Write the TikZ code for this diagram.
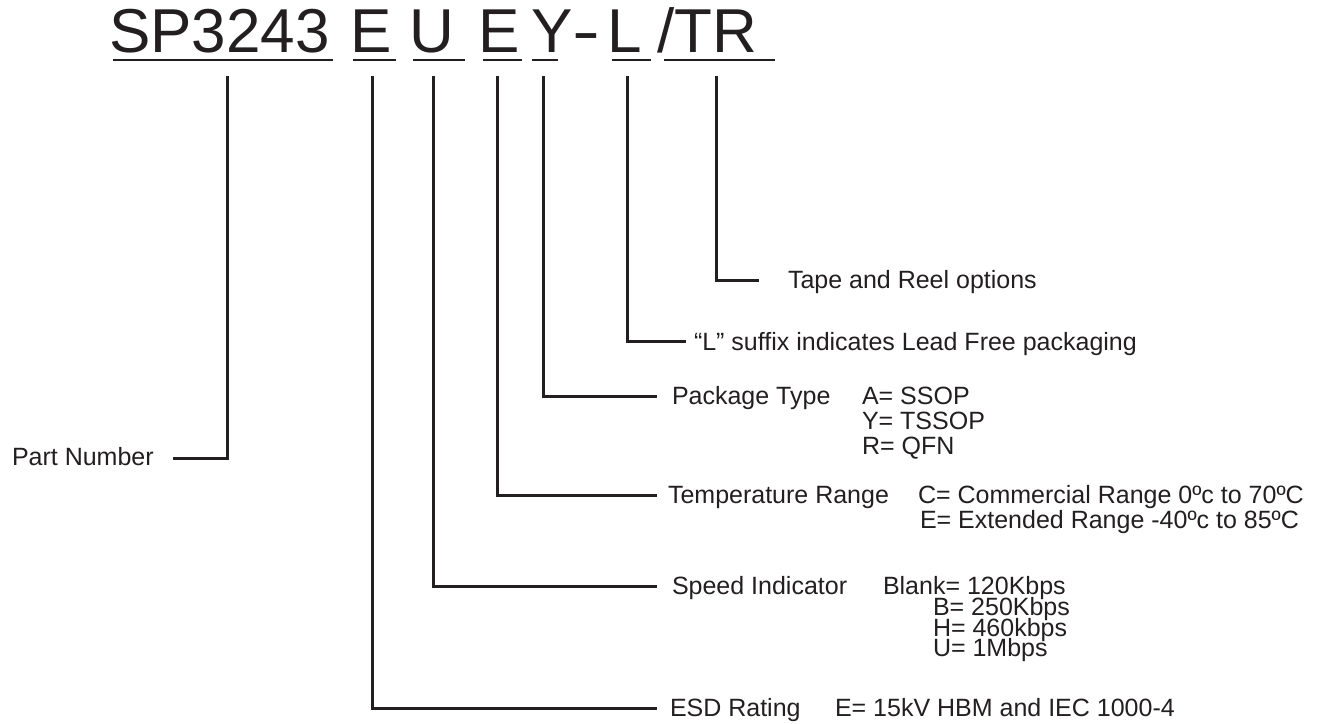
\documentclass[tikz,border=0pt]{standalone}
\usepackage{fontspec}
\setmainfont{Liberation Sans}
\definecolor{ink}{HTML}{231F20}
\tikzset{
  lbl/.style={anchor=base west, inner sep=0pt, outer sep=0pt, text=ink, font=\fontsize{12.5}{14}\selectfont},
  big/.style={anchor=base west, inner sep=0pt, outer sep=0pt, text=ink, font=\fontsize{31}{36}\selectfont},
  lead/.style={draw=ink, line width=1.5pt, line join=miter, line cap=rect},
  uline/.style={draw=ink, line width=1.1pt},
}
\begin{document}
\begin{tikzpicture}[x=0.5pt, y=-0.5pt]
\useasboundingbox (0,0) rectangle (1328,723);
% header
\node[big] (sp) at (109,52) {SP3243};
\node[big] (e1) at (350,52) {E};
\node[big] (u) at (409,52) {U};
\node[big] (e2) at (478,52) {E};
\node[big] (y) at (531,52) {Y};
\node[big, xscale=1.35] (dash) at (572,52) {-};
\node[big] (l) at (607,52) {L};
\node[big] (tr) at (657,52) {/TR};
% underlines
\coordinate (u1a) at (113,60); \coordinate (u1b) at (333,60);
\coordinate (u2a) at (353,60); \coordinate (u2b) at (396,60);
\coordinate (u3a) at (413,60); \coordinate (u3b) at (465,60);
\coordinate (u4a) at (483,60); \coordinate (u4b) at (522,60);
\coordinate (u5a) at (532,60); \coordinate (u5b) at (558,60);
\coordinate (u6a) at (612,60); \coordinate (u6b) at (651,60);
\coordinate (u7a) at (664,60); \coordinate (u7b) at (775,60);
\draw[uline] (u1a) -- (u1b);
\draw[uline] (u2a) -- (u2b);
\draw[uline] (u3a) -- (u3b);
\draw[uline] (u4a) -- (u4b);
\draw[uline] (u5a) -- (u5b);
\draw[uline] (u6a) -- (u6b);
\draw[uline] (u7a) -- (u7b);
% labels
\node[lbl] (tape) at (788,288) {Tape and Reel options};
\node[lbl] (lead) at (694,350) {“L” suffix indicates Lead Free packaging};
\node[lbl] (pkg) at (672,404) {Package Type};
\node[lbl] (pkga) at (862,404) {A= SSOP};
\node[lbl] (pkgy) at (862,429) {Y= TSSOP};
\node[lbl] (pkgr) at (862,454) {R= QFN};
\node[lbl] (temp) at (668,503) {Temperature Range};
\node[lbl] (tempc) at (918,503) {C= Commercial Range 0ºc to 70ºC};
\node[lbl] (tempe) at (920,528) {E= Extended Range -40ºc to 85ºC};
\node[lbl] (spd) at (672,594) {Speed Indicator};
\node[lbl] (spdb0) at (883,594) {Blank= 120Kbps};
\node[lbl] (spdb) at (933,615) {B= 250Kbps};
\node[lbl] (spdh) at (933,636) {H= 460kbps};
\node[lbl] (spdu) at (933,656) {U= 1Mbps};
\node[lbl] (esd) at (670,716) {ESD Rating};
\node[lbl] (esde) at (835,716) {E= 15kV HBM and IEC 1000-4};
\node[lbl] (part) at (12,465) {Part Number};
% leader coordinates
\coordinate (s1) at (227,77); \coordinate (c1) at (227,458); \coordinate (t1) at (174,458);
\coordinate (s2) at (372,77); \coordinate (c2) at (372,708); \coordinate (t2) at (655,708);
\coordinate (s3) at (433,77); \coordinate (c3) at (433,586); \coordinate (t3) at (655,586);
\coordinate (s4) at (497,77); \coordinate (c4) at (497,495); \coordinate (t4) at (655,495);
\coordinate (s5) at (543,77); \coordinate (c5) at (543,396); \coordinate (t5) at (655,396);
\coordinate (s6) at (627,77); \coordinate (c6) at (627,341); \coordinate (t6) at (684,341);
\coordinate (s7) at (716,77); \coordinate (c7) at (716,280); \coordinate (t7) at (757,280);
\draw[lead] (s1) -- (c1) -- (t1);
\draw[lead] (s2) -- (c2) -- (t2);
\draw[lead] (s3) -- (c3) -- (t3);
\draw[lead] (s4) -- (c4) -- (t4);
\draw[lead] (s5) -- (c5) -- (t5);
\draw[lead] (s6) -- (c6) -- (t6);
\draw[lead] (s7) -- (c7) -- (t7);
\end{tikzpicture}
\end{document}
